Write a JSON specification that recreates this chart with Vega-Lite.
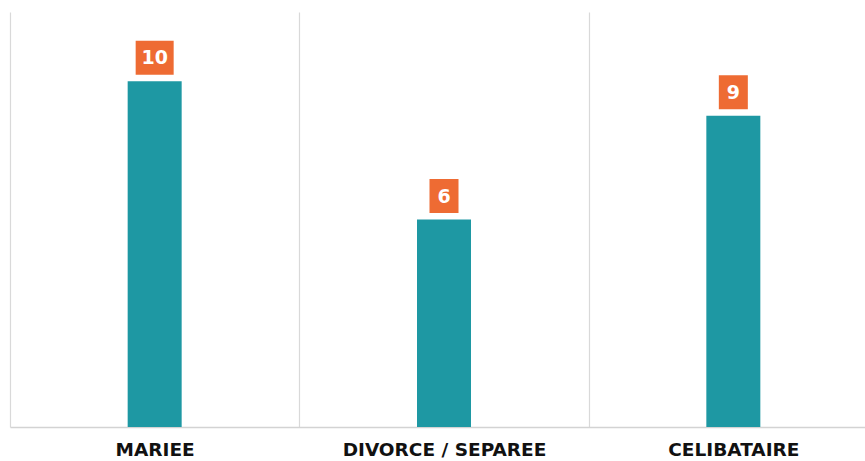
{
  "$schema": "https://vega.github.io/schema/vega-lite/v6.json",
  "autosize": {"type": "none"},
  "width": 855,
  "height": 415,
  "padding": {"left": 10, "top": 12, "right": 0, "bottom": 34},
  "background": "white",
  "config": {"view": {"stroke": null}},
  "data": {"values": [
    {"cat": "MARIEE", "n": 10},
    {"cat": "DIVORCE / SEPAREE", "n": 6},
    {"cat": "CELIBATAIRE", "n": 9}
  ]},
  "encoding": {
    "x": {"field": "cat", "type": "nominal", "sort": null, "title": null,
      "scale": {"range": [0, 868], "paddingInner": 0, "paddingOuter": 0},
      "axis": {"labelAngle": 0, "grid": true, "tickBand": "extent", "gridColor": "#d9d9d9", "gridWidth": 1.2,
        "domainColor": "#d3d3d3", "domainWidth": 1.5, "ticks": false, "labelLimit": 0,
        "labelFont": "DejaVu Sans", "labelFontWeight": "bold", "labelFontSize": 18.5,
        "labelColor": "#111111", "labelPadding": 13}},
    "y": {"field": "n", "type": "quantitative", "scale": {"domain": [0, 12]}, "axis": null}
  },
  "layer": [
    {"mark": {"type": "bar", "color": "#1E98A3", "width": 54}},
    {"mark": {"type": "tick", "color": "#EE6B33", "thickness": 34, "yOffset": -23.5, "opacity": 1},
     "encoding": {"size": {"condition": {"test": "datum.n >= 10", "value": 38}, "value": 29}}},
    {"mark": {"type": "text", "color": "white", "font": "DejaVu Sans", "fontWeight": "bold", "fontSize": 19, "baseline": "middle", "yOffset": -23},
     "encoding": {"text": {"field": "n", "type": "quantitative"}}}
  ]
}
